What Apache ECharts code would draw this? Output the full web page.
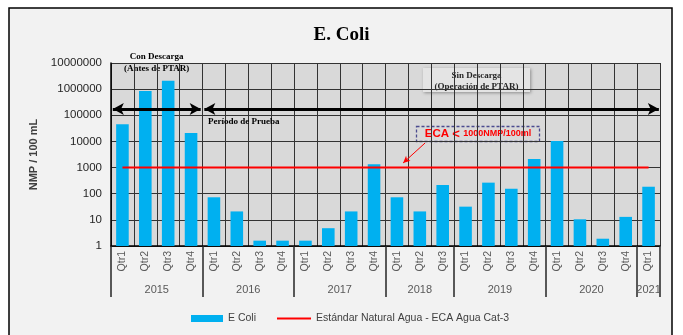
<!DOCTYPE html>
<html>
<head>
<meta charset="utf-8">
<script src="https://cdn.jsdelivr.net/npm/echarts@6/dist/echarts.min.js"></script>
<style>
  html, body { margin: 0; padding: 0; background: #fff; }
  #chart { width: 683px; height: 335px; }
</style>
</head>
<body>
<div id="chart"></div>
<script>
// quarters on the x axis, grouped by year
const quarters = [
  'Qtr1', 'Qtr2', 'Qtr3', 'Qtr4',
  'Qtr1', 'Qtr2', 'Qtr3', 'Qtr4',
  'Qtr1', 'Qtr2', 'Qtr3', 'Qtr4',
  'Qtr1', 'Qtr2', 'Qtr3',
  'Qtr1', 'Qtr2', 'Qtr3', 'Qtr4',
  'Qtr1', 'Qtr2', 'Qtr3', 'Qtr4',
  'Qtr1'
]
const years = ['2015', '2016', '2017', '2018', '2019', '2020', '2021']
const yearSizes = [4, 4, 4, 3, 4, 4, 1]

// E. coli NMP / 100 mL
const eColi = [
  45000, 850000, 2100000, 21000,
  73, 21, 1.6, 1.6,
  1.6, 4.8, 21, 1330,
  73, 21, 215,
  32, 265, 155, 2130,
  10400, 10.5, 1.9, 13,
  185
]
const ecaLimit = 1000

// period boundaries (in quarter units) for the dashed green lines
const periodBreaks = [4, 7.9]

// year axis: 2 slots per quarter, label at group middle, tick at group edges
const yearAxisData = []
const yearEdges = new Set()
let start = 0
for (let i = 0; i <= quarters.length * 2; i++) yearAxisData.push('')
years.forEach((y, i) => {
  yearAxisData[start * 2 + yearSizes[i]] = y
  yearEdges.add(start * 2)
  start += yearSizes[i]
})
yearEdges.add(start * 2)

const serif = 'Liberation Serif'
const sans = 'Liberation Sans'
const gridColor = '#333'
const barName = 'E Coli'
const lineName = 'Estándar Natural Agua - ECA Agua Cat-3'

const chart = echarts.init(document.getElementById('chart'))

const legendText = { fontFamily: sans, fontSize: 10.5, color: '#404040' }

const option = {
  animation: false,
  backgroundColor: '#fff',
  title: {
    text: 'E. Coli',
    left: 'center',
    top: 21,
    textStyle: { fontFamily: serif, fontWeight: 'bold', fontSize: 19, color: '#000' },
  },
  legend: [
    {
      top: 308,
      left: 186,
      itemWidth: 32,
      itemHeight: 7,
      textStyle: legendText,
      data: [{ name: barName, icon: 'rect' }],
    },
    {
      top: 308,
      left: 272,
      itemWidth: 34,
      itemHeight: 2,
      textStyle: legendText,
      data: [{ name: lineName, icon: 'rect' }],
    },
  ],
  grid: {
    left: 111,
    right: 23,
    top: 63,
    bottom: 89,
    show: true,
    backgroundColor: '#d9d9d9',
    borderWidth: 0,
  },
  xAxis: [
    {
      type: 'category',
      data: quarters,
      axisLine: { lineStyle: { color: '#000', width: 1.5 } },
      axisTick: { show: false },
      axisLabel: {
        rotate: 90,
        interval: 0,
        margin: 5,
        fontFamily: sans,
        fontSize: 10.5,
        color: '#595959',
      },
      splitLine: { show: true, lineStyle: { color: gridColor, width: 1 } },
    },
    {
      type: 'category',
      position: 'bottom',
      boundaryGap: false,
      data: yearAxisData,
      axisLine: { show: false },
      axisTick: {
        show: true,
        length: 51,
        interval: (i) => yearEdges.has(i),
        lineStyle: { color: '#262626', width: 1.5 },
      },
      axisLabel: {
        interval: 0,
        margin: 38,
        fontFamily: sans,
        fontSize: 11,
        color: '#595959',
      },
    },
    {
      type: 'value',
      min: 0,
      max: quarters.length,
      show: false,
    },
  ],
  yAxis: {
    type: 'log',
    logBase: 10,
    min: 1,
    max: 10000000,
    splitNumber: 7,
    name: 'NMP / 100 mL',
    nameLocation: 'middle',
    nameGap: 66,
    nameTextStyle: { fontFamily: sans, fontSize: 11, fontWeight: 'bold', color: '#404040' },
    axisLine: { show: true, lineStyle: { color: '#000', width: 1.5 } },
    axisTick: { show: false },
    axisLabel: {
      margin: 9,
      fontFamily: sans,
      fontSize: 11.5,
      color: '#262626',
      formatter: (v) => String(Math.round(v)),
    },
    splitLine: { show: true, lineStyle: { color: gridColor, width: 1 } },
  },
  series: [
    {
      name: barName,
      type: 'bar',
      data: eColi,
      barWidth: '55%',
      itemStyle: { color: '#00b0f0' },
      z: 3,
    },
    {
      name: lineName,
      type: 'line',
      data: quarters.map(() => ecaLimit),
      symbol: 'none',
      lineStyle: { color: '#ff0000', width: 2 },
      itemStyle: { color: '#ff0000' },
      z: 4,
    },
    {
      // annotation lines: period separators and arrows
      name: 'notes',
      type: 'line',
      xAxisIndex: 2,
      data: [],
      z: 5,
      markLine: {
        silent: true,
        animation: false,
        label: { show: false },
        data: [
          ...periodBreaks.map((x) => [
            { coord: [x, 1], symbol: 'none', lineStyle: { color: '#00b050', width: 2.5, type: [6, 5] } },
            { coord: [x, 13000000], symbol: 'none' },
          ]),
          [
            { coord: [0.08, 175000], symbol: 'arrow', symbolSize: [9, 11], lineStyle: { color: '#000', width: 3, type: 'solid' } },
            { coord: [3.92, 175000], symbol: 'arrow', symbolSize: [9, 11] },
          ],
          [
            { coord: [4.08, 175000], symbol: 'arrow', symbolSize: [9, 11], lineStyle: { color: '#000', width: 3, type: 'solid' } },
            { coord: [23.95, 175000], symbol: 'arrow', symbolSize: [9, 11] },
          ],
          [
            { coord: [13.73, 8700], symbol: 'none', lineStyle: { color: '#ff0000', width: 1, type: 'solid' } },
            { coord: [12.77, 1500], symbol: 'arrow', symbolSize: [5, 7] },
          ],
        ],
      },
    },
  ],
  graphic: [
    {
      type: 'rect',
      z: -10,
      shape: { x: 9, y: 8, width: 663, height: 340 },
      style: { fill: '#f2f2f2', stroke: '#000', lineWidth: 1.5 },
    },
    {
      type: 'group',
      left: 124,
      top: 51,
      z: 10,
      children: [
        {
          type: 'text',
          style: {
            x: 33,
            y: 0,
            text: 'Con Descarga\n(Antes de PTAR)',
            align: 'center',
            font: 'bold 9px "Liberation Serif"',
            lineHeight: 12,
            fill: '#000',
          },
        },
      ],
    },
    {
      type: 'text',
      z: 10,
      left: 208,
      top: 117,
      style: { text: 'Período de Prueba', font: 'bold 9px "Liberation Serif"', fill: '#000' },
    },
    {
      type: 'group',
      left: 423,
      top: 68,
      z: 10,
      children: [
        {
          type: 'rect',
          shape: { x: 0, y: 0, width: 107, height: 24 },
          style: { fill: '#e4e4e4', shadowBlur: 3, shadowColor: 'rgba(0,0,0,0.35)', shadowOffsetX: 1, shadowOffsetY: 1 },
        },
        {
          type: 'text',
          style: {
            x: 53.5,
            y: 2,
            text: 'Sin Descarga\n(Operación de PTAR)',
            align: 'center',
            font: 'bold 9px "Liberation Serif"',
            lineHeight: 11,
            fill: '#262626',
          },
        },
      ],
    },
    {
      type: 'group',
      left: 414,
      top: 124,
      z: 10,
      children: [
        {
          type: 'rect',
          shape: { x: 0, y: 0, width: 123, height: 15 },
          style: { fill: 'none', stroke: '#4b4b8f', lineWidth: 1.3, lineDash: [3, 2] },
        },
        {
          type: 'text',
          style: {
            x: 61.5,
            y: 7.5,
            align: 'center',
            verticalAlign: 'middle',
            text: '{a|ECA} {b|<} {c|1000NMP/100ml}',
            rich: {
              a: { fontFamily: sans, fontWeight: 'bold', fontSize: 11.5, fill: '#ff0000' },
              b: { fontFamily: sans, fontWeight: 'bold', fontSize: 13, fill: '#ff0000' },
              c: { fontFamily: sans, fontWeight: 'bold', fontSize: 9, fill: '#ff0000' },
            },
          },
        },
      ],
    },
  ],
}

chart.setOption(option)
</script>
</body>
</html>
